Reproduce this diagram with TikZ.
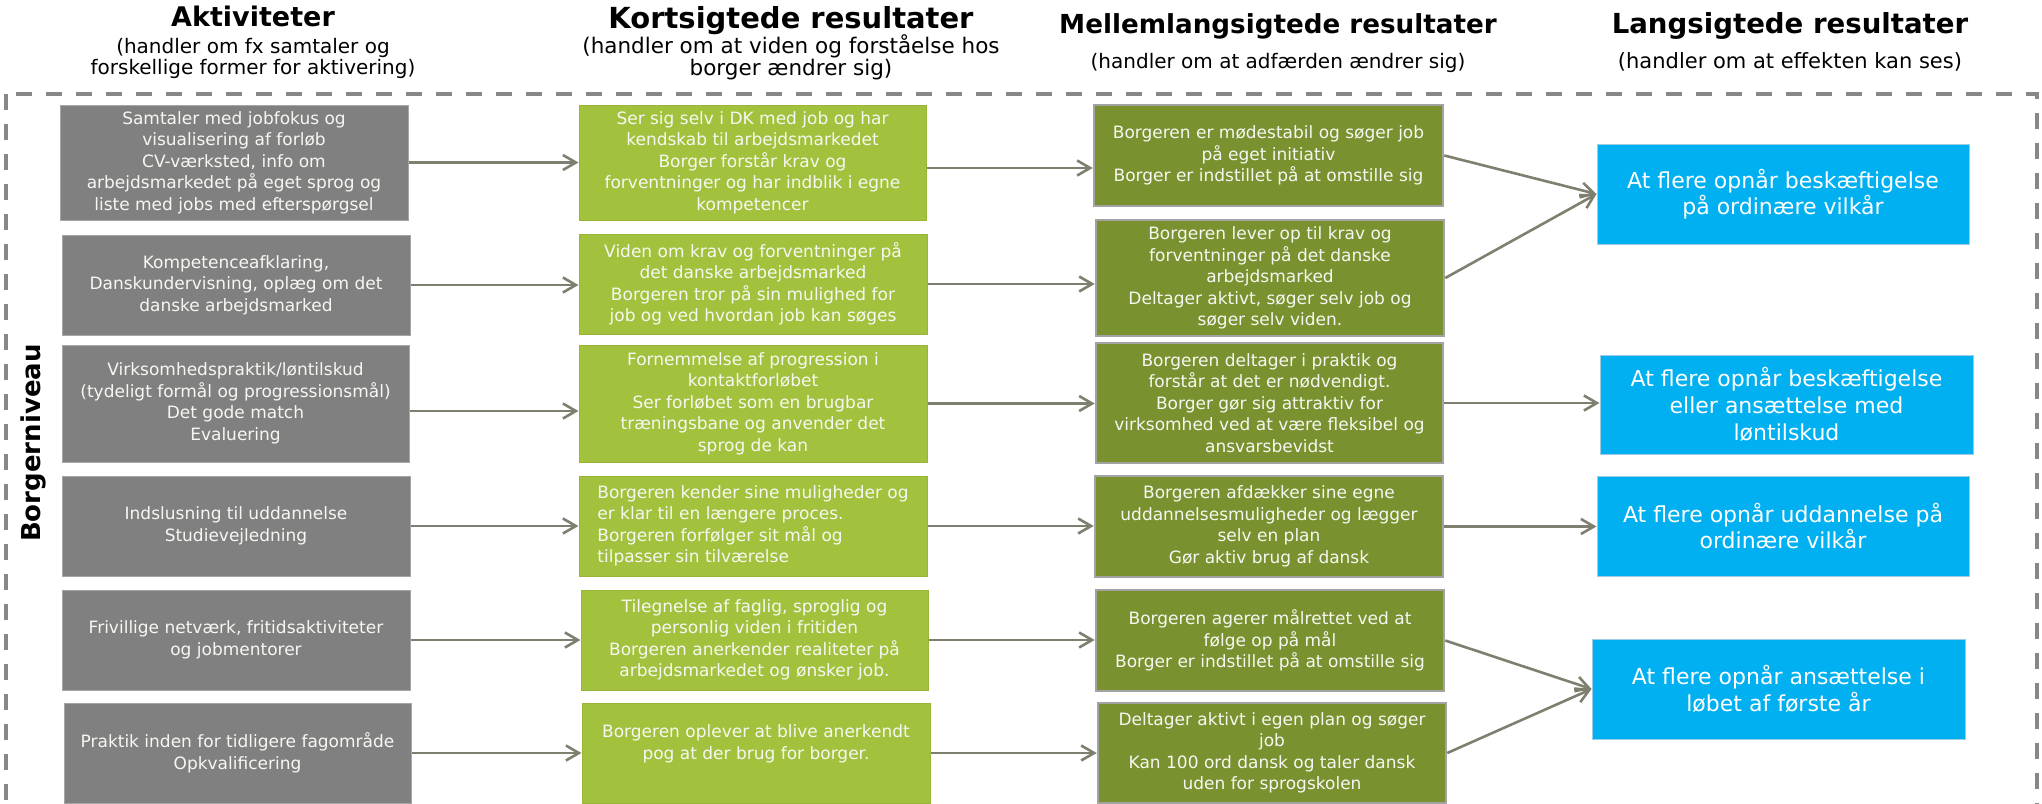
\documentclass[tikz,border=0pt]{standalone}
\usepackage{fontspec}
\setmainfont{DejaVu Sans}
\usetikzlibrary{arrows.meta,calc}
\definecolor{boxgray}{HTML}{808080}
\definecolor{graybord}{HTML}{A6A6A6}
\definecolor{boxgreen}{HTML}{A2C23E}
\definecolor{greenbord}{HTML}{98B53A}
\definecolor{boxolive}{HTML}{7A9130}
\definecolor{olivebord}{HTML}{A3A3A3}
\definecolor{boxblue}{HTML}{00B0F0}
\definecolor{bluebord}{HTML}{9CCBE6}
\definecolor{arrcol}{HTML}{7F7F6F}
\definecolor{framecol}{HTML}{878787}
\definecolor{txtw}{HTML}{F7F7F2}
\begin{document}
\begin{tikzpicture}[x=1pt,y=-1pt,
  box/.style={rectangle, inner sep=0pt, align=center, text=txtw, font=\fontsize{17}{21.5}\selectfont},
  gbox/.style={box, fill=boxgray, draw=graybord, line width=1pt},
  kbox/.style={box, fill=boxgreen, draw=greenbord, line width=1pt},
  mbox/.style={box, fill=boxolive, draw=olivebord, line width=2.5pt},
  lbox/.style={box, fill=boxblue, draw=bluebord, line width=1pt, text=white, font=\fontsize{22}{26.7}\selectfont},
  arr/.style={draw=arrcol, line width=2.6pt, -{Straight Barb[length=13pt,width=15pt]}},
  hdr/.style={anchor=base, inner sep=0pt},
  sub/.style={anchor=base, inner sep=0pt},
  framestyle/.style={draw=framecol, line width=4pt, dash pattern=on 16pt off 14pt}
]
\useasboundingbox (0,0) rectangle (2042,803);

% frame
\draw[framestyle] (6,94) rectangle (2037,806);

% headers
\node[hdr, font=\fontsize{27}{30}\selectfont\bfseries] (hA) at (253,27) {Aktiviteter};
\node[sub, font=\fontsize{20}{22}\selectfont] (sA1) at (253,53) {(handler om fx samtaler og};
\node[sub, font=\fontsize{20}{22}\selectfont] (sA2) at (253,74) {forskellige former for aktivering)};
\node[hdr, font=\fontsize{29}{32}\selectfont\bfseries] (hK) at (791,28) {Kortsigtede resultater};
\node[sub, font=\fontsize{21.5}{24}\selectfont] (sK1) at (791,53) {(handler om at viden og forståelse hos};
\node[sub, font=\fontsize{21.5}{24}\selectfont] (sK2) at (791,75) {borger ændrer sig)};
\node[hdr, font=\fontsize{26.2}{29}\selectfont\bfseries] (hM) at (1278,33) {Mellemlangsigtede resultater};
\node[sub, font=\fontsize{20}{22}\selectfont] (sM) at (1278,68) {(handler om at adfærden ændrer sig)};
\node[hdr, font=\fontsize{27.6}{30}\selectfont\bfseries] (hL) at (1790,33) {Langsigtede resultater};
\node[sub, font=\fontsize{21}{23}\selectfont] (sL) at (1790,68) {(handler om at effekten kan ses)};

\node[font=\fontsize{26}{28}\selectfont\bfseries, rotate=90, inner sep=0pt] (bn) at (33,443) {Borgerniveau};

% activities
\node[gbox, minimum width=348pt, minimum height=115pt] (g1) at (234,162.5)
  {Samtaler med jobfokus og\\visualisering af forløb\\CV-værksted, info om\\arbejdsmarkedet på eget sprog og\\liste med jobs med efterspørgsel};
\node[gbox, minimum width=348pt, minimum height=100pt] (g2) at (236,285)
  {Kompetenceafklaring,\\Danskundervisning, oplæg om det\\danske arbejdsmarked};
\node[gbox, minimum width=347pt, minimum height=117pt] (g3) at (235.5,403.5)
  {Virksomhedspraktik/løntilskud\\(tydeligt formål og progressionsmål)\\Det gode match\\Evaluering};
\node[gbox, minimum width=348pt, minimum height=100pt] (g4) at (236,526)
  {Indslusning til uddannelse\\Studievejledning};
\node[gbox, minimum width=348pt, minimum height=100pt] (g5) at (236,640)
  {Frivillige netværk, fritidsaktiviteter\\og jobmentorer};
\node[gbox, minimum width=347pt, minimum height=100pt] (g6) at (237.5,753)
  {Praktik inden for tidligere fagområde\\Opkvalificering};

% short term
\node[kbox, minimum width=347pt, minimum height=115pt] (k1) at (752.5,162.5)
  {Ser sig selv i DK med job og har\\kendskab til arbejdsmarkedet\\Borger forstår krav og\\forventninger og har indblik i egne\\kompetencer};
\node[kbox, minimum width=348pt, minimum height=100pt] (k2) at (753,284)
  {Viden om krav og forventninger på\\det danske arbejdsmarked\\Borgeren tror på sin mulighed for\\job og ved hvordan job kan søges};
\node[kbox, minimum width=348pt, minimum height=117pt] (k3) at (753,403.5)
  {Fornemmelse af progression i\\kontaktforløbet\\Ser forløbet som en brugbar\\træningsbane og anvender det\\sprog de kan};
\node[kbox, align=left, minimum width=348pt, minimum height=100pt] (k4) at (753,526)
  {Borgeren kender sine muligheder og\\er klar til en længere proces.\\Borgeren forfølger sit mål og\\tilpasser sin tilværelse};
\node[kbox, minimum width=347pt, minimum height=100pt] (k5) at (754.5,640)
  {Tilegnelse af faglig, sproglig og\\personlig viden i fritiden\\Borgeren anerkender realiteter på\\arbejdsmarkedet og ønsker job.};
\node[kbox, minimum width=348pt, minimum height=100pt] (k6) at (756,753)
  {Borgeren oplever at blive anerkendt\\pog at der brug for borger.\\\mbox{}};

% medium term
\node[mbox, minimum width=349pt, minimum height=101pt] (m1) at (1268.5,155.5)
  {Borgeren er mødestabil og søger job\\på eget initiativ\\Borger er indstillet på at omstille sig};
\node[mbox, minimum width=348pt, minimum height=116pt] (m2) at (1270,278)
  {Borgeren lever op til krav og\\forventninger på det danske\\arbejdsmarked\\Deltager aktivt, søger selv job og\\søger selv viden.};
\node[mbox, minimum width=347pt, minimum height=120pt] (m3) at (1269.5,403)
  {Borgeren deltager i praktik og\\forstår at det er nødvendigt.\\Borger gør sig attraktiv for\\virksomhed ved at være fleksibel og\\ansvarsbevidst};
\node[mbox, minimum width=348pt, minimum height=101pt] (m4) at (1269,526.5)
  {Borgeren afdækker sine egne\\uddannelsesmuligheder og lægger\\selv en plan\\Gør aktiv brug af dansk};
\node[mbox, minimum width=348pt, minimum height=101pt] (m5) at (1270,640.5)
  {Borgeren agerer målrettet ved at\\følge op på mål\\Borger er indstillet på at omstille sig};
\node[mbox, minimum width=348pt, minimum height=100pt] (m6) at (1272,753)
  {Deltager aktivt i egen plan og søger\\job\\Kan 100 ord dansk og taler dansk\\uden for sprogskolen};

% long term
\node[lbox, minimum width=372pt, minimum height=100pt] (b1) at (1783,194)
  {At flere opnår beskæftigelse\\på ordinære vilkår};
\node[lbox, minimum width=373pt, minimum height=99pt] (b2) at (1786.5,404.5)
  {At flere opnår beskæftigelse\\eller ansættelse med\\løntilskud};
\node[lbox, minimum width=372pt, minimum height=100pt] (b3) at (1783,526)
  {At flere opnår uddannelse på\\ordinære vilkår};
\node[lbox, minimum width=373pt, minimum height=100pt] (b4) at (1778.5,689)
  {At flere opnår ansættelse i\\løbet af første år};

% arrows activities -> short term
\draw[arr] (g1.east) -- (g1.east -| k1.west);
\draw[arr] (g2.east) -- (g2.east -| k2.west);
\coordinate (r3) at ($(g3.east)+(0,7.5)$);
\draw[arr] (r3) -- (r3 -| k3.west);
\draw[arr] (g4.east) -- (g4.east -| k4.west);
\draw[arr] (g5.east) -- (g5.east -| k5.west);
\draw[arr] (g6.east) -- (g6.east -| k6.west);

% short -> medium
\coordinate (s1) at ($(k1.east)+(0,5.5)$);
\draw[arr] (s1) -- (s1 -| m1.west);
\draw[arr] (k2.east) -- (k2.east -| m2.west);
\draw[arr] (k3.east) -- (k3.east -| m3.west);
\draw[arr] (k4.east) -- (k4.east -| m4.west);
\draw[arr] (k5.east) -- (k5.east -| m5.west);
\draw[arr] (k6.east) -- (k6.east -| m6.west);

% medium -> long
\draw[arr] (m1.east) -- (b1.west);
\draw[arr] (m2.east) -- (b1.west);
\draw[arr] (m3.east) -- (m3.east -| b2.west);
\draw[arr] (m4.east) -- (m4.east -| b3.west);
\draw[arr] (m5.east) -- (b4.west);
\draw[arr] (m6.east) -- (b4.west);
\end{tikzpicture}
\end{document}
